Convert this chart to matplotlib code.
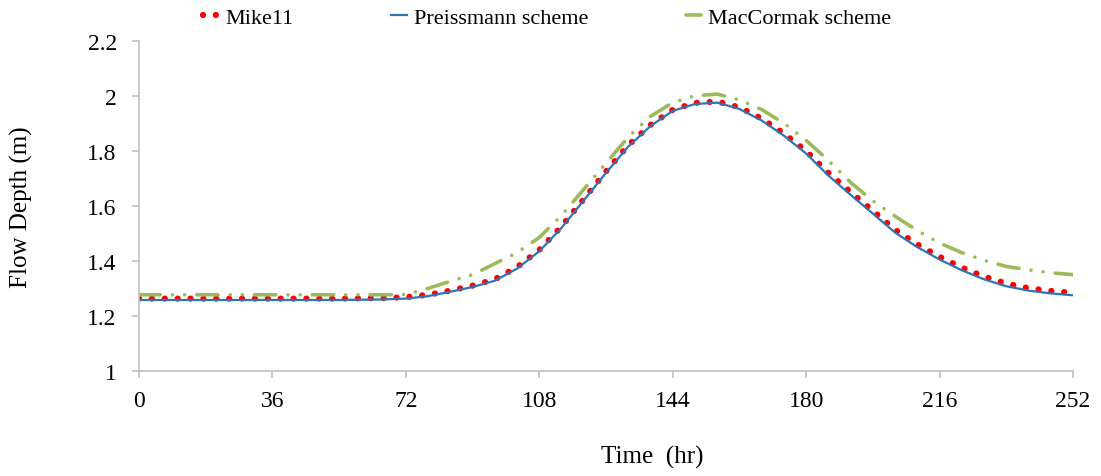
import numpy as np
import matplotlib.pyplot as plt

plt.rcParams['font.family'] = ['Liberation Serif', 'DejaVu Serif']

# time (hr) and flow depth (m)
time = [0, 6, 12, 18, 24, 30, 36, 42, 48, 54, 60, 66, 72, 78, 84, 90, 96, 102,
        108, 114, 120, 126, 132, 138, 144, 150, 156, 162, 168, 174, 180, 186,
        192, 198, 204, 210, 216, 222, 228, 234, 240, 246, 252]

preissmann = [1.258, 1.258, 1.258, 1.258, 1.258, 1.258, 1.258, 1.258, 1.258,
              1.258, 1.259, 1.260, 1.263, 1.272, 1.288, 1.305, 1.328, 1.372,
              1.435, 1.520, 1.620, 1.720, 1.815, 1.890, 1.945, 1.970, 1.975,
              1.952, 1.910, 1.855, 1.790, 1.710, 1.640, 1.572, 1.503, 1.450,
              1.405, 1.366, 1.333, 1.308, 1.292, 1.282, 1.275]

mike11 = [1.263, 1.263, 1.263, 1.263, 1.263, 1.263, 1.263, 1.263, 1.263,
          1.263, 1.264, 1.265, 1.268, 1.277, 1.292, 1.310, 1.333, 1.377,
          1.440, 1.525, 1.625, 1.725, 1.820, 1.894, 1.949, 1.974, 1.979,
          1.958, 1.917, 1.863, 1.799, 1.720, 1.650, 1.582, 1.513, 1.460,
          1.415, 1.376, 1.343, 1.318, 1.301, 1.291, 1.284]

maccormak = [1.277, 1.277, 1.277, 1.277, 1.277, 1.277, 1.277, 1.277, 1.277,
             1.277, 1.277, 1.277, 1.278, 1.300, 1.326, 1.350, 1.390, 1.430,
             1.485, 1.565, 1.660, 1.755, 1.850, 1.925, 1.975, 2.000, 2.006,
             1.985, 1.950, 1.900, 1.838, 1.765, 1.685, 1.618, 1.562, 1.510,
             1.465, 1.430, 1.402, 1.380, 1.367, 1.357, 1.350]

fig = plt.figure(figsize=(11.01, 4.77), dpi=100)
ax = fig.add_axes([139 / 1101, 1 - 372 / 477, 934 / 1101, 330.3 / 477])

ax.plot(time, mike11, color='#ff0000', lw=4.5, linestyle=(0, (0.01, 2.05)),
        dash_capstyle='round', label='Mike11')
ax.plot(time, preissmann, color='#2e75b6', lw=1.6, label='Preissmann scheme')
ax.plot(time, maccormak, color='#9bbb59', lw=2.6,
        linestyle=(0, (5.9, 3.36, 0.01, 3.36, 0.01, 3.36)),
        dash_capstyle='round', label='MacCormak scheme')

ax.set_xlim(0, 252)
ax.set_ylim(1, 2.2)
ax.set_xticks(np.arange(0, 253, 36))
ax.set_yticks(np.arange(1, 2.21, 0.2))
ax.set_yticklabels(['1', '1.2', '1.4', '1.6', '1.8', '2', '2.2'])

for s in ['top', 'right']:
    ax.spines[s].set_visible(False)
for s in ['left', 'bottom']:
    ax.spines[s].set_color('#bfbfbf')
    ax.spines[s].set_linewidth(1.2)
ax.tick_params(axis='both', colors='#bfbfbf', labelcolor='black',
               labelsize=17, length=5, width=1.2)
ax.tick_params(axis='y', pad=11)
ax.tick_params(axis='x', pad=9)

ax.set_xlabel('Time  (hr)', fontsize=18)
ax.set_ylabel('Flow Depth (m)', fontsize=18)
ax.xaxis.set_label_coords(0.55, -0.225)
ax.yaxis.set_label_coords(-0.113, 0.5)

fig.legend(loc='upper center', bbox_to_anchor=(0.497, 1.025), ncol=3,
           frameon=False, fontsize=16, handlelength=0.7, handletextpad=0.3,
           columnspacing=4.4)

fig.savefig('out.png', dpi=100)
